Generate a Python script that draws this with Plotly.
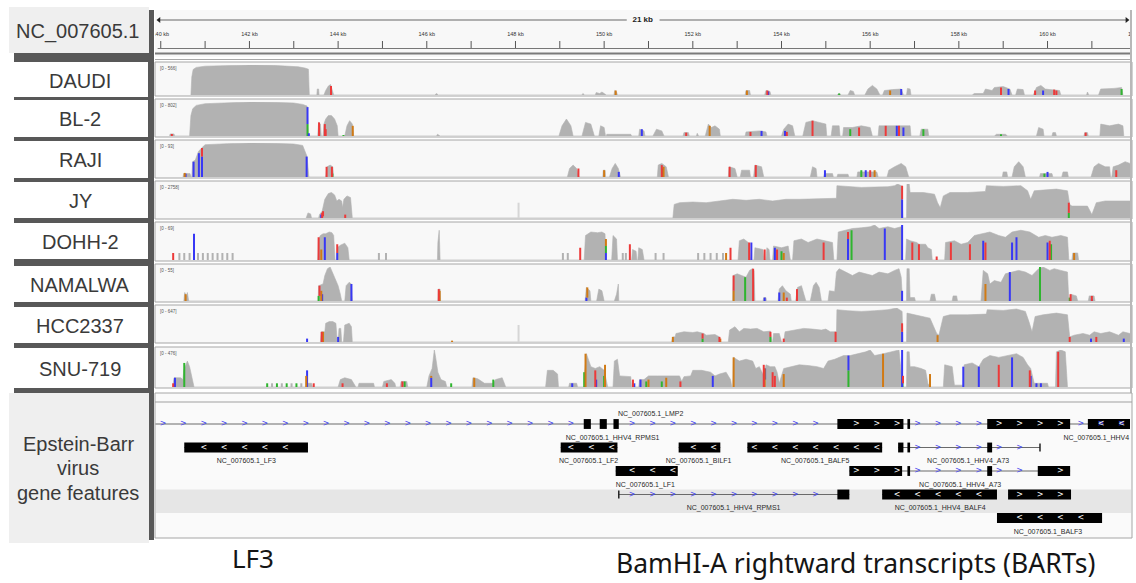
import plotly.graph_objects as go

W, H = 1136, 583


def px(x):
    return x / W


def py(y):
    return 1 - y / H


# ---------------------------------------------------------------- data
KB_RANGE = [139.87, 161.86]
RULER_TICKS_KB = list(range(140, 162))
RULER_LABEL_KB = list(range(140, 164, 2))
SPAN_LABEL = "21 kb"
SPAN_LABEL_KB = 150.87

TRACK_NAMES = ["DAUDI", "BL-2", "RAJI", "JY", "DOHH-2", "NAMALWA", "HCC2337", "SNU-719"]
TRACK_MAX = [566, 802, 93, 2758, 69, 55, 647, 476]

# coverage profiles: (kb, fraction of track data range)
DAUDI_COV = [
    [(140.68, 0), (140.70, 0.6), (140.73, 0.85), (140.8, 0.92), (141.0, 0.96), (141.5, 0.98), (142.0, 1.0),
     (142.5, 0.99), (142.9, 0.97), (143.1, 0.94), (143.25, 0.9), (143.33, 0.86), (143.35, 0)],
    [(143.52, 0), (143.53, 0.2), (143.56, 0.2), (143.57, 0)],
    [(143.68, 0), (143.72, 0.15), (143.78, 0.3), (143.83, 0.35), (143.88, 0.1), (143.9, 0)],
    [(146.18, 0), (146.22, 0.05), (146.26, 0)],
    [(149.5, 0), (149.52, 0.05), (149.56, 0)],
    [(149.8, 0), (149.82, 0.08), (149.9, 0.05), (149.95, 0.1), (150.0, 0.05), (150.05, 0)],
    [(150.22, 0), (150.24, 0.15), (150.28, 0.1), (150.3, 0)],
    [(153.18, 0), (153.2, 0.15), (153.28, 0.15), (153.3, 0)],
    [(153.62, 0), (153.65, 0.15), (153.74, 0.12), (153.76, 0)],
    [(155.25, 0), (155.3, 0.05), (155.35, 0)],
    [(155.5, 0), (155.55, 0.15), (155.62, 0.12), (155.65, 0)],
    [(155.88, 0), (155.95, 0.2), (156.05, 0.32), (156.15, 0.2), (156.22, 0)],
    [(156.28, 0), (156.32, 0.15), (156.5, 0.18), (156.7, 0.2), (156.75, 0)],
    [(156.82, 0), (156.84, 0.22), (156.9, 0.2), (156.92, 0)],
    [(158.3, 0), (158.35, 0.05), (158.55, 0.05), (158.6, 0.2), (158.75, 0.15), (158.8, 0.25), (159.0, 0.28),
     (159.15, 0.2), (159.2, 0)],
    [(159.28, 0), (159.32, 0.2), (159.45, 0.18), (159.48, 0)],
    [(159.68, 0), (159.75, 0.25), (159.85, 0.32), (159.95, 0.2), (160.05, 0.18), (160.27, 0.15), (160.3, 0)],
    [(160.88, 0), (160.9, 0.1), (160.93, 0)],
    [(161.15, 0), (161.2, 0.2), (161.5, 0.22), (161.67, 0.25), (161.7, 0)],
]
BL2_COV = [
    [(140.2, 0), (140.21, 0.06), (140.3, 0.06), (140.31, 0)],
    [(140.65, 0), (140.68, 0.6), (140.72, 0.8), (140.8, 0.9), (141.0, 0.95), (141.5, 0.98), (142.0, 1.0),
     (142.5, 0.99), (143.0, 0.97), (143.2, 0.93), (143.3, 0.88), (143.33, 0)],
    [(143.54, 0), (143.56, 0.4), (143.6, 0.35), (143.62, 0)],
    [(143.66, 0), (143.68, 0.35), (143.72, 0.5), (143.78, 0.6), (143.85, 0.6), (143.92, 0.5), (143.98, 0.3), (144.0, 0)],
    [(144.15, 0), (144.2, 0.3), (144.26, 0.45), (144.32, 0.35), (144.35, 0)],
    [(146.22, 0), (146.24, 0.05), (146.3, 0)],
    [(148.98, 0), (149.05, 0.3), (149.15, 0.5), (149.25, 0.3), (149.3, 0)],
    [(149.5, 0), (149.58, 0.4), (149.7, 0.35), (149.78, 0)],
    [(149.88, 0), (149.92, 0.3), (150.0, 0.25), (150.03, 0)],
    [(150.05, 0), (150.06, 0.05), (150.6, 0.05), (150.62, 0)],
    [(150.78, 0), (150.8, 0.2), (150.9, 0.15), (150.92, 0)],
    [(151.1, 0), (151.18, 0.2), (151.3, 0.15), (151.35, 0)],
    [(151.78, 0), (151.8, 0.1), (151.9, 0.1), (151.92, 0)],
    [(152.08, 0), (152.1, 0.08), (152.13, 0)],
    [(152.28, 0), (152.35, 0.35), (152.42, 0.25), (152.5, 0.3), (152.6, 0.2), (152.62, 0)],
    [(153.18, 0), (153.2, 0.12), (153.5, 0.15), (153.65, 0.12), (153.67, 0)],
    [(154.0, 0), (154.05, 0.2), (154.15, 0.35), (154.25, 0.3), (154.3, 0)],
    [(154.48, 0), (154.55, 0.4), (154.7, 0.45), (154.85, 0.4), (155.0, 0.35), (155.02, 0)],
    [(155.12, 0), (155.15, 0.3), (155.3, 0.3), (155.32, 0)],
    [(155.38, 0), (155.4, 0.25), (155.6, 0.25), (155.8, 0.3), (156.0, 0.25), (156.05, 0)],
    [(156.18, 0), (156.2, 0.3), (156.5, 0.3), (156.7, 0.32), (156.9, 0.3), (156.92, 0)],
    [(157.12, 0), (157.15, 0.2), (157.3, 0.2), (157.32, 0)],
    [(158.8, 0), (158.85, 0.05), (159.05, 0.05), (159.1, 0)],
    [(159.75, 0), (159.8, 0.25), (159.9, 0.2), (159.92, 0)],
    [(160.1, 0), (160.12, 0.1), (160.18, 0.1), (160.2, 0)],
    [(160.82, 0), (160.84, 0.1), (160.9, 0.1), (160.92, 0)],
    [(161.18, 0), (161.2, 0.35), (161.4, 0.3), (161.6, 0.35), (161.7, 0.3), (161.72, 0)],
]
RAJI_COV = [
    [(140.5, 0), (140.52, 0.1), (140.66, 0.1), (140.68, 0)],
    [(140.7, 0), (140.72, 0.45), (140.78, 0.5), (140.85, 0.75), (140.92, 0.85), (141.0, 0.95), (141.5, 0.98),
     (142.0, 1.0), (142.5, 0.99), (143.0, 0.97), (143.2, 0.93), (143.3, 0.6), (143.32, 0.3), (143.34, 0)],
    [(143.72, 0), (143.75, 0.3), (143.82, 0.35), (143.88, 0.3), (143.9, 0)],
    [(149.17, 0), (149.22, 0.25), (149.3, 0.35), (149.38, 0.25), (149.43, 0)],
    [(149.97, 0), (149.98, 0.2), (150.02, 0.2), (150.03, 0)],
    [(150.12, 0), (150.18, 0.25), (150.25, 0.4), (150.32, 0.25), (150.37, 0)],
    [(151.2, 0), (151.22, 0.35), (151.3, 0.4), (151.4, 0.3), (151.45, 0)],
    [(152.8, 0), (152.82, 0.3), (152.95, 0.25), (153.0, 0)],
    [(153.07, 0), (153.1, 0.2), (153.28, 0.2), (153.3, 0)],
    [(153.37, 0), (153.4, 0.35), (153.55, 0.3), (153.6, 0)],
    [(154.65, 0), (154.7, 0.3), (154.78, 0.25), (154.8, 0)],
    [(154.95, 0), (154.97, 0.1), (155.15, 0.1), (155.17, 0)],
    [(155.25, 0), (155.27, 0.08), (155.5, 0.08), (155.52, 0)],
    [(155.7, 0), (155.72, 0.15), (156.15, 0.15), (156.18, 0)],
    [(156.38, 0), (156.42, 0.2), (156.55, 0.3), (156.7, 0.4), (156.8, 0.3), (156.87, 0)],
    [(158.98, 0), (159.0, 0.15), (159.08, 0.15), (159.1, 0)],
    [(159.2, 0), (159.25, 0.3), (159.35, 0.45), (159.45, 0.3), (159.5, 0)],
    [(159.82, 0), (159.84, 0.1), (160.1, 0.1), (160.12, 0)],
    [(160.32, 0), (160.35, 0.15), (160.45, 0.15), (160.47, 0)],
    [(160.98, 0), (161.05, 0.3), (161.15, 0.4), (161.3, 0.3), (161.4, 0.3), (161.42, 0)],
    [(161.45, 0), (161.48, 0.3), (161.6, 0.35), (161.75, 0.45), (161.86, 0.4)],
]
JY_COV = [
    [(143.28, 0), (143.32, 0.15), (143.38, 0.12), (143.4, 0)],
    [(143.56, 0), (143.58, 0.1), (143.64, 0.2), (143.7, 0.55), (143.78, 0.72), (143.85, 0.75), (143.92, 0.68),
     (143.97, 0.5), (144.02, 0.55), (144.08, 0.5), (144.1, 0.3), (144.13, 0.55), (144.2, 0.65), (144.28, 0.6),
     (144.32, 0)],
    [(151.55, 0), (151.58, 0.4), (151.7, 0.45), (152.0, 0.47), (152.3, 0.45), (152.6, 0.5), (152.9, 0.55),
     (153.2, 0.52), (153.5, 0.55), (153.8, 0.5), (154.1, 0.55), (154.4, 0.55), (154.8, 0.57), (155.1, 0.58),
     (155.24, 0.58), (155.25, 0.95), (155.5, 0.92), (155.8, 0.9), (156.1, 0.91), (156.4, 0.92), (156.55, 0.95),
     (156.62, 1.0), (156.7, 0.95), (156.74, 0)],
    [(156.82, 0), (156.83, 1.0), (156.88, 1.0), (156.9, 0.75), (157.2, 0.75), (157.45, 0.7), (157.52, 0.45),
     (157.58, 0.3), (157.65, 0.65), (157.8, 0.75), (158.2, 0.75), (158.6, 0.78), (158.62, 0.95), (159.0, 0.93),
     (159.4, 0.95), (159.55, 0.8), (159.62, 0.55), (159.7, 0.8), (159.9, 0.82), (160.2, 0.85), (160.45, 0.8),
     (160.5, 0.4), (160.55, 0.35), (160.9, 0.35), (161.0, 0.1), (161.1, 0.45), (161.3, 0.5), (161.86, 0.5)],
]
DOHH2_COV = [
    [(143.54, 0), (143.56, 0.6), (143.6, 0.7), (143.66, 0.75), (143.72, 0.75), (143.8, 0.8), (143.86, 0.78),
     (143.9, 0.7), (143.93, 0)],
    [(143.97, 0), (143.98, 0.35), (144.05, 0.42), (144.15, 0.48), (144.22, 0.35), (144.25, 0)],
    [(146.24, 0), (146.25, 0.5), (146.28, 0.85), (146.3, 0)],
    [(149.55, 0), (149.58, 0.7), (149.7, 0.8), (149.85, 0.78), (149.95, 0.8), (150.02, 0.75), (150.04, 0)],
    [(150.17, 0), (150.2, 0.7), (150.28, 0.6), (150.3, 0)],
    [(150.62, 0), (150.64, 0.3), (150.72, 0.25), (150.74, 0)],
    [(150.76, 0), (150.78, 0.35), (150.86, 0.3), (150.9, 0)],
    [(153.02, 0), (153.05, 0.55), (153.15, 0.6), (153.25, 0.5), (153.3, 0)],
    [(153.38, 0), (153.4, 0.35), (153.58, 0.3), (153.6, 0)],
    [(153.65, 0), (153.67, 0.35), (153.72, 0.3), (153.74, 0)],
    [(153.8, 0), (153.82, 0.4), (154.0, 0.35), (154.15, 0.4), (154.2, 0)],
    [(154.25, 0), (154.28, 0.55), (154.45, 0.6), (154.6, 0.5), (154.8, 0.6), (155.0, 0.55), (155.15, 0.5), (155.18, 0)],
    [(155.25, 0), (155.28, 0.8), (155.45, 0.85), (155.6, 0.9), (155.8, 0.92), (156.0, 0.95), (156.1, 1.0),
     (156.2, 0.9), (156.4, 0.95), (156.55, 0.9), (156.7, 0.95), (156.73, 0)],
    [(156.8, 0), (156.82, 0.6), (156.9, 0.55), (157.05, 0.5), (157.1, 0.45), (157.25, 0.45), (157.3, 0.35),
     (157.38, 0.3), (157.4, 0)],
    [(157.68, 0), (157.7, 0.5), (157.9, 0.55), (158.05, 0.45), (158.2, 0.5), (158.35, 0.7), (158.5, 0.75),
     (158.7, 0.8), (158.9, 0.7), (159.05, 0.65), (159.2, 0.8), (159.4, 0.85), (159.6, 0.8), (159.8, 0.65),
     (159.95, 0.7), (160.1, 0.65), (160.3, 0.7), (160.45, 0.65), (160.48, 0)],
    [(160.55, 0), (160.57, 0.2), (160.68, 0.2), (160.7, 0)],
]
NAMALWA_COV = [
    [(140.52, 0), (140.54, 0.25), (140.58, 0.15), (140.6, 0.25), (140.63, 0)],
    [(143.55, 0), (143.56, 0.45), (143.66, 0.5), (143.7, 0.75), (143.76, 0.95), (143.82, 1.0), (143.88, 0.8),
     (143.95, 0.6), (144.0, 0.45), (144.05, 0.2), (144.08, 0)],
    [(144.15, 0), (144.18, 0.45), (144.25, 0.55), (144.3, 0.5), (144.32, 0)],
    [(146.25, 0), (146.26, 0.35), (146.3, 0.35), (146.31, 0)],
    [(149.57, 0), (149.6, 0.4), (149.68, 0.3), (149.7, 0)],
    [(149.83, 0), (149.88, 0.35), (149.95, 0.3), (150.0, 0)],
    [(150.23, 0), (150.28, 0.2), (150.32, 0.5), (150.33, 0)],
    [(152.9, 0), (152.91, 0.75), (153.0, 0.8), (153.1, 0.75), (153.2, 0.7), (153.28, 0.9), (153.34, 0.95),
     (153.38, 0.9), (153.4, 0)],
    [(153.58, 0), (153.6, 0.1), (153.65, 0.1), (153.66, 0)],
    [(153.92, 0), (153.95, 0.35), (154.02, 0.45), (154.1, 0.3), (154.2, 0.2), (154.22, 0)],
    [(154.32, 0), (154.36, 0.4), (154.45, 0.45), (154.5, 0.25), (154.55, 0)],
    [(154.65, 0), (154.72, 0.45), (154.78, 0.55), (154.85, 0.4), (154.9, 0)],
    [(155.05, 0), (155.08, 0.3), (155.2, 0.28), (155.24, 0.85), (155.3, 0.95), (155.45, 0.85), (155.6, 0.75),
     (155.75, 0.85), (155.9, 0.8), (156.05, 0.75), (156.2, 0.85), (156.4, 0.8), (156.55, 0.9), (156.65, 0.95),
     (156.7, 0.7), (156.73, 0)],
    [(156.82, 0), (156.83, 0.95), (156.88, 0.95), (156.9, 0.1), (157.0, 0.1), (157.02, 0)],
    [(157.35, 0), (157.38, 0.2), (157.45, 0.2), (157.48, 0)],
    [(157.85, 0), (157.87, 0.15), (157.95, 0.15), (157.97, 0)],
    [(158.5, 0), (158.55, 0.9), (158.65, 0.8), (158.7, 0.5), (158.8, 0.6), (158.95, 0.55), (159.05, 0.8),
     (159.2, 0.85), (159.35, 0.9), (159.5, 0.85), (159.65, 0.75), (159.8, 0.95), (159.9, 1.0), (160.05, 0.9),
     (160.15, 0.95), (160.3, 0.9), (160.45, 0.85), (160.48, 0)],
    [(160.5, 0), (160.52, 0.2), (160.65, 0.15), (160.68, 0)],
    [(160.92, 0), (160.94, 0.15), (161.05, 0.15), (161.07, 0)],
]
HCC2337_COV = [
    [(143.6, 0), (143.62, 0.3), (143.7, 0.3), (143.72, 0.55), (143.8, 0.6), (143.88, 0.6), (143.95, 0.55), (143.98, 0)],
    [(144.0, 0), (144.02, 0.4), (144.06, 0.4), (144.08, 0)],
    [(144.12, 0), (144.15, 0.5), (144.25, 0.55), (144.3, 0.45), (144.32, 0)],
    [(151.52, 0), (151.55, 0.15), (151.6, 0.15), (151.62, 0.25), (151.8, 0.3), (152.0, 0.28), (152.1, 0.3),
     (152.25, 0.25), (152.3, 0.2), (152.5, 0.22), (152.6, 0.15), (152.62, 0)],
    [(152.8, 0), (152.83, 0.35), (152.95, 0.45), (153.05, 0.3), (153.15, 0.4), (153.3, 0.38), (153.45, 0.4),
     (153.6, 0.3), (153.75, 0.32), (153.78, 0)],
    [(153.8, 0), (153.82, 0.25), (153.95, 0.25), (154.0, 0)],
    [(154.05, 0), (154.08, 0.3), (154.3, 0.35), (154.5, 0.4), (154.7, 0.38), (154.9, 0.35), (155.0, 0.38),
     (155.1, 0.3), (155.24, 0.3), (155.25, 0.95), (155.5, 0.92), (155.8, 0.9), (156.1, 0.92), (156.4, 0.95),
     (156.6, 1.0), (156.72, 0.9), (156.74, 0)],
    [(156.82, 0), (156.83, 0.85), (157.0, 0.8), (157.2, 0.75), (157.35, 0.7), (157.5, 0.25), (157.55, 0.2),
     (157.65, 0.75), (157.8, 0.8), (158.2, 0.8), (158.62, 0.82), (158.64, 0.95), (159.0, 0.93), (159.3, 0.97),
     (159.5, 0.9), (159.58, 0.6), (159.65, 0.3), (159.72, 0.75), (159.9, 0.8), (160.2, 0.85), (160.45, 0.8),
     (160.5, 0.15), (160.6, 0.2), (160.8, 0.25), (160.95, 0.2), (161.05, 0.3), (161.2, 0.25), (161.4, 0.3),
     (161.6, 0.2), (161.7, 0.3), (161.86, 0.25)],
]
SNU719_COV = [
    [(140.27, 0), (140.3, 0.25), (140.45, 0.25), (140.5, 0.2), (140.52, 0.45), (140.6, 0.7), (140.65, 0.55),
     (140.7, 0.25), (140.75, 0)],
    [(143.3, 0), (143.32, 0.1), (143.4, 0.1), (143.42, 0)],
    [(144.0, 0), (144.05, 0.2), (144.15, 0.25), (144.3, 0.2), (144.4, 0)],
    [(144.45, 0), (144.47, 0.1), (144.8, 0.1), (144.82, 0)],
    [(145.0, 0), (145.03, 0.15), (145.2, 0.2), (145.28, 0.1), (145.3, 0)],
    [(145.4, 0), (145.42, 0.15), (145.55, 0.15), (145.57, 0)],
    [(146.0, 0), (146.05, 0.3), (146.12, 0.5), (146.17, 1.0), (146.2, 0.8), (146.25, 0.4), (146.32, 0.2),
     (146.42, 0.15), (146.45, 0)],
    [(147.02, 0), (147.04, 0.25), (147.15, 0.22), (147.3, 0.1), (147.5, 0.1), (147.55, 0.2), (147.7, 0.25), (147.78, 0)],
    [(148.68, 0), (148.72, 0.45), (148.85, 0.45), (148.95, 0.35), (148.97, 0)],
    [(149.2, 0), (149.22, 0.1), (149.38, 0.1), (149.4, 0)],
    [(149.55, 0), (149.56, 0.4), (149.6, 0.9), (149.7, 0.55), (149.8, 0.5), (149.9, 0.55), (150.0, 0.45),
     (150.05, 0.2), (150.08, 0)],
    [(150.2, 0), (150.23, 0.7), (150.3, 0.75), (150.35, 0.3), (150.6, 0.28), (150.62, 0)],
    [(150.78, 0), (150.8, 0.2), (150.9, 0.2), (151.0, 0.3), (151.2, 0.3), (151.4, 0.3), (151.55, 0.3),
     (151.7, 0.3), (151.75, 0.15), (151.8, 0.28), (151.95, 0.3), (152.0, 0.45), (152.2, 0.45), (152.4, 0.4),
     (152.5, 0.3), (152.6, 0.35), (152.75, 0.4), (152.85, 0.2), (152.88, 0)],
    [(152.9, 0), (152.92, 0.8), (153.05, 0.7), (153.2, 0.75), (153.35, 0.7), (153.42, 0.5), (153.5, 0.55),
     (153.6, 0.3), (153.65, 0.6), (153.75, 0.55), (153.85, 0.55), (153.9, 0.4), (153.95, 0.1), (154.05, 0.5),
     (154.2, 0.55), (154.4, 0.6), (154.6, 0.58), (154.8, 0.55), (154.95, 0.5), (155.05, 0.7), (155.2, 0.75),
     (155.4, 0.85), (155.55, 0.85), (155.75, 0.9), (155.9, 0.95), (156.0, 1.0), (156.1, 0.85), (156.3, 0.9),
     (156.5, 0.95), (156.65, 1.0), (156.73, 0)],
    [(156.82, 0), (156.83, 0.95), (156.88, 0.95), (156.9, 0.55), (157.0, 0.55), (157.15, 0.5), (157.25, 0.45),
     (157.3, 0.1), (157.35, 0)],
    [(157.65, 0), (157.68, 0.6), (157.85, 0.55), (157.9, 0.05), (158.1, 0.05), (158.12, 0.6), (158.3, 0.65),
     (158.45, 0.55), (158.55, 0.75), (158.7, 0.85), (158.9, 0.8), (159.1, 0.85), (159.3, 0.9), (159.45, 0.8),
     (159.55, 0.6), (159.62, 0.5), (159.7, 0.1), (160.0, 0.1), (160.02, 0)],
    [(160.18, 0), (160.2, 0.95), (160.3, 1.0), (160.4, 0.95), (160.45, 0)],
]

# mismatch / single-position bars: (kb, from, to, base)  N = reference-only bar, L = faint bar
DAUDI_BARS = [(143.84, 0, 0.3, "T"), (150.26, 0, 0.15, "G"), (153.22, 0, 0.15, "G"), (153.68, 0, 0.15, "T"),
              (153.7, 0, 0.12, "C"), (155.3, 0, 0.05, "A"), (156.45, 0, 0.15, "G"), (156.7, 0, 0.2, "C"),
              (158.95, 0, 0.25, "T"), (159.12, 0, 0.2, "C"), (159.72, 0, 0.15, "T"), (159.9, 0, 0.15, "C"),
              (160.15, 0, 0.18, "T"), (160.2, 0, 0.15, "T"), (161.67, 0, 0.2, "A")]
BL2_BARS = [(140.25, 0, 0.06, "T"), (143.31, 0, 0.35, "A"), (143.31, 0.35, 0.85, "C"), (143.34, 0, 0.08, "C"),
            (143.57, 0, 0.4, "T"), (143.7, 0, 0.35, "T"), (143.72, 0, 0.2, "T"), (144.12, 0, 0.03, "A"),
            (144.33, 0, 0.3, "G"), (150.85, 0, 0.2, "C"), (151.85, 0, 0.1, "T"), (152.38, 0, 0.3, "G"),
            (153.3, 0, 0.12, "T"), (153.55, 0, 0.15, "C"), (154.08, 0, 0.15, "C"), (154.12, 0, 0.12, "T"),
            (154.7, 0, 0.45, "T"), (155.55, 0, 0.2, "A"), (155.75, 0, 0.25, "T"), (156.35, 0, 0.3, "T"),
            (156.6, 0, 0.3, "C"), (156.65, 0, 0.3, "T"), (156.75, 0, 0.25, "C"), (157.2, 0, 0.2, "A"),
            (158.95, 0, 0.05, "A"), (160.86, 0, 0.1, "T")]
RAJI_BARS = [(140.56, 0, 0.1, "C"), (140.54, 0, 0.12, "G"), (140.74, 0, 0.45, "C"), (140.86, 0, 0.7, "C"),
             (140.93, 0, 0.6, "C"), (140.93, 0.6, 0.85, "T"), (143.29, 0, 0.6, "C"), (143.74, 0, 0.3, "T"),
             (143.86, 0, 0.3, "T"), (143.87, 0, 0.1, "A"), (149.42, 0, 0.25, "T"), (150.0, 0, 0.2, "G"),
             (150.33, 0, 0.15, "C"), (151.3, 0, 0.35, "T"), (151.32, 0, 0.25, "A"), (151.34, 0, 0.3, "G"),
             (152.83, 0, 0.3, "T"), (153.42, 0, 0.35, "T"), (154.98, 0, 0.2, "C"), (155.8, 0, 0.2, "A"),
             (155.9, 0, 0.2, "C"), (156.0, 0, 0.2, "T"), (156.1, 0, 0.2, "G"), (159.93, 0, 0.1, "A"),
             (160.0, 0, 0.15, "C"), (161.55, 0, 0.2, "T")]
JY_BARS = [(143.62, 0, 0.1, "C"), (143.64, 0, 0.15, "T"), (143.66, 0.05, 0.2, "T"), (144.16, 0, 0.1, "T"),
           (148.07, 0, 0.45, "L"), (156.72, 0, 0.55, "C"), (156.72, 0.55, 0.95, "T"),
           (160.48, 0, 0.15, "A"), (160.48, 0.15, 0.45, "T")]
DOHH2_BARS = [(140.28, 0, 0.2, "T"), (140.42, 0, 0.2, "N"), (140.53, 0, 0.2, "N"), (140.65, 0, 0.2, "N"),
              (140.75, 0, 0.75, "C"), (140.84, 0, 0.2, "N"), (140.95, 0, 0.2, "N"), (141.06, 0, 0.2, "N"),
              (141.17, 0, 0.2, "N"), (141.28, 0, 0.2, "N"), (141.39, 0, 0.2, "N"), (141.5, 0, 0.2, "N"),
              (141.62, 0, 0.2, "N"), (143.56, 0, 0.65, "T"), (143.62, 0, 0.3, "G"), (143.7, 0, 0.65, "C"),
              (143.98, 0, 0.2, "C"), (143.98, 0.2, 0.45, "T"), (144.92, 0, 0.2, "N"), (145.08, 0, 0.2, "N"),
              (149.07, 0, 0.2, "N"), (149.18, 0, 0.2, "N"), (149.46, 0, 0.35, "T"), (150.04, 0, 0.2, "C"),
              (150.04, 0.2, 0.4, "A"), (150.04, 0.4, 0.6, "G"), (150.42, 0, 0.2, "N"), (150.49, 0, 0.2, "N"),
              (150.58, 0, 0.45, "T"), (151.16, 0, 0.2, "N"), (151.34, 0, 0.2, "N"), (152.12, 0, 0.2, "N"),
              (152.26, 0, 0.2, "N"), (152.4, 0, 0.2, "N"), (152.54, 0, 0.2, "N"), (152.68, 0, 0.2, "N"),
              (152.75, 0, 0.2, "G"), (152.85, 0, 0.35, "T"), (153.27, 0, 0.5, "T"), (153.32, 0, 0.5, "C"),
              (153.62, 0, 0.3, "T"), (153.85, 0, 0.35, "C"), (153.9, 0, 0.3, "T"), (154.0, 0, 0.25, "A"),
              (154.05, 0, 0.2, "G"), (154.95, 0, 0.5, "T"), (155.5, 0, 0.6, "C"), (155.5, 0.6, 0.8, "T"),
              (155.58, 0, 0.85, "A"), (156.33, 0, 0.9, "C"), (156.72, 0, 1.0, "C"), (156.95, 0, 0.5, "T"),
              (157.1, 0, 0.45, "T"), (157.5, 0, 0.1, "T"), (157.82, 0, 0.5, "T"), (158.25, 0, 0.45, "T"),
              (158.55, 0, 0.55, "C"), (158.6, 0, 0.5, "T"), (159.2, 0, 0.5, "C"), (159.3, 0, 0.65, "C"),
              (160.0, 0, 0.5, "C"), (160.05, 0, 0.55, "T"), (160.08, 0, 0.45, "A"), (160.6, 0, 0.2, "G")]
NAMALWA_BARS = [(140.56, 0, 0.2, "G"), (143.56, 0, 0.15, "A"), (143.58, 0.15, 0.45, "T"), (143.62, 0, 0.3, "G"),
                (143.64, 0, 0.2, "C"), (144.3, 0, 0.5, "C"), (146.27, 0, 0.35, "T"), (146.29, 0, 0.3, "G"),
                (149.6, 0, 0.1, "C"), (149.62, 0.1, 0.4, "G"), (152.92, 0, 0.3, "G"), (152.92, 0.3, 0.75, "T"),
                (153.18, 0, 0.7, "A"), (153.36, 0, 0.95, "T"), (153.62, 0, 0.1, "C"), (153.95, 0, 0.25, "C"),
                (154.05, 0, 0.25, "G"), (154.12, 0, 0.1, "T"), (154.35, 0, 0.35, "T"), (156.72, 0, 0.3, "C"),
                (158.6, 0, 0.5, "G"), (159.15, 0, 0.85, "C"), (159.83, 0, 1.0, "A"), (160.5, 0, 0.1, "A"),
                (160.52, 0, 0.2, "T"), (161.0, 0, 0.15, "T"), (161.0, 0, 0.05, "C")]
HCC2337_BARS = [(143.3, 0, 0.1, "C"), (143.63, 0, 0.3, "T"), (143.66, 0, 0.3, "G"), (144.0, 0, 0.15, "C"),
                (146.57, 0, 0.04, "G"), (148.07, 0, 0.5, "L"), (151.55, 0, 0.15, "G"), (152.22, 0, 0.1, "A"),
                (152.22, 0.1, 0.25, "T"), (152.6, 0, 0.15, "T"), (152.62, 0, 0.1, "G"), (153.75, 0, 0.15, "A"),
                (153.75, 0.15, 0.3, "T"), (154.05, 0, 0.1, "T"), (155.22, 0, 0.3, "T"), (156.72, 0, 0.3, "C"),
                (156.72, 0.3, 0.55, "T"), (157.52, 0, 0.2, "G"), (160.5, 0, 0.15, "T"), (160.98, 0, 0.1, "C"),
                (161.1, 0, 0.15, "T"), (161.72, 0, 0.1, "C")]
SNU719_BARS = [(140.28, 0, 0.1, "T"), (140.32, 0, 0.25, "C"), (140.53, 0, 0.65, "A"), (142.4, 0, 0.1, "A"),
               (142.51, 0, 0.1, "N"), (142.62, 0, 0.1, "A"), (142.73, 0, 0.1, "N"), (142.84, 0, 0.1, "A"),
               (142.95, 0, 0.1, "N"), (143.06, 0, 0.1, "A"), (143.17, 0, 0.1, "N"), (143.28, 0, 0.3, "G"),
               (143.3, 0, 0.45, "C"), (143.45, 0, 0.1, "T"), (144.1, 0, 0.1, "T"), (145.1, 0, 0.1, "T"),
               (145.45, 0, 0.15, "T"), (145.5, 0, 0.15, "A"), (146.1, 0, 0.25, "C"), (146.1, 0.25, 0.3, "G"),
               (146.55, 0, 0.1, "A"), (147.07, 0, 0.25, "G"), (147.5, 0, 0.2, "A"), (149.28, 0, 0.1, "C"),
               (149.55, 0, 0.4, "A"), (149.58, 0, 0.9, "G"), (149.8, 0, 0.45, "T"), (149.82, 0, 0.2, "C"),
               (150.0, 0, 0.3, "A"), (150.02, 0, 0.6, "G"), (150.65, 0, 0.2, "T"), (150.68, 0, 0.1, "C"),
               (150.82, 0, 0.2, "C"), (150.95, 0, 0.15, "A"), (151.0, 0, 0.2, "G"), (151.3, 0, 0.15, "A"),
               (151.4, 0, 0.25, "G"), (151.72, 0, 0.15, "T"), (152.45, 0, 0.3, "C"), (152.92, 0, 0.8, "G"),
               (153.6, 0, 0.6, "T"), (153.62, 0, 0.5, "G"), (153.63, 0.2, 0.5, "C"), (153.8, 0, 0.4, "T"),
               (153.85, 0, 0.3, "T"), (154.05, 0, 0.35, "G"), (155.51, 0, 0.45, "A"), (155.51, 0.45, 0.85, "C"),
               (156.29, 0, 0.9, "G"), (156.72, 0, 1.0, "C"), (156.73, 0, 0.3, "A"), (156.74, 0.1, 0.3, "T"),
               (157.35, 0, 0.35, "G"), (158.1, 0, 0.55, "C"), (158.45, 0, 0.55, "C"), (158.9, 0, 0.6, "T"),
               (159.2, 0, 0.8, "C"), (159.6, 0, 0.45, "T"), (159.62, 0, 0.3, "C"), (159.75, 0, 0.1, "C"),
               (159.85, 0, 0.1, "C"), (160.24, 0, 0.95, "T")]

TRACK_COV = [DAUDI_COV, BL2_COV, RAJI_COV, JY_COV, DOHH2_COV, NAMALWA_COV, HCC2337_COV, SNU719_COV]
TRACK_BARS = [DAUDI_BARS, BL2_BARS, RAJI_BARS, JY_BARS, DOHH2_BARS, NAMALWA_BARS, HCC2337_BARS, SNU719_BARS]

# gene features
GENE_NAMES = ["NC_007605.1_LMP2", "NC_007605.1_HHV4_RPMS1", "NC_007605.1_HHV4", "NC_007605.1_LF3",
              "NC_007605.1_LF2", "NC_007605.1_BILF1", "NC_007605.1_BALF5", "NC_007605.1_HHV4_A73",
              "NC_007605.1_LF1", "NC_007605.1_HHV4_A73", "NC_007605.1_HHV4_RPMS1", "NC_007605.1_HHV4_BALF4",
              "", "NC_007605.1_BALF3"]
GENE_ROWS = [0, 1, 1, 2, 2, 2, 2, 2, 3, 3, 4, 4, 4, 5]
GENE_STRANDS = ["+", "+", "-", "-", "-", "-", "-", "+", "-", "+", "+", "-", "+", "-"]
GENE_SPANS = [None, (139.88, 161.86), (160.91, 161.86), (140.53, 143.32), (149.02, 150.30), (151.68, 152.62),
              (153.23, 156.27), (156.63, 159.83), (150.26, 151.66), (155.53, 160.51), (150.33, 155.53),
              (156.27, 158.86), (159.11, 160.53), (158.86, 161.23)]
GENE_EXONS = [
    [],
    [(149.54, 149.70), (149.90, 150.06), (150.21, 150.33), (155.26, 156.75), (156.84, 156.90), (158.64, 160.51)],
    [(160.91, 161.86)],
    [(140.53, 143.32)],
    [(149.02, 150.30)],
    [(151.68, 152.62)],
    [(153.23, 156.27)],
    [(156.63, 156.75), (156.84, 156.90), (158.64, 158.75)],
    [(150.26, 151.66)],
    [(155.53, 156.72), (156.84, 156.90), (158.64, 158.75), (159.78, 160.51)],
    [(155.26, 155.53)],
    [(156.27, 158.86)],
    [(159.11, 160.53)],
    [(158.86, 161.23)],
]
GENE_LABEL_KB = [151.05, 150.19, 161.1, 141.93, 149.65, 152.13, 154.76, 158.21, 150.93, 158.03, 152.92,
                 157.58, 160.0, 160.01]
GENE_END_TICKS = [[], [], [], [], [], [], [], [159.83], [], [], [150.33], [], [], []]

BASE_COLORS = {"A": "#2fb52f", "C": "#3838f5", "G": "#d17a14", "T": "#ec3a3a", "N": "#b2b2b2", "L": "#d6d6d6"}
COVERAGE_GRAY = "#b2b2b2"

# ---------------------------------------------------------------- geometry (pixels)
PANEL_X0, PANEL_X1 = 155, 1130
TRACK_BOX = [(62, 96), (99, 137), (140, 178), (181, 219), (222, 261), (264, 302), (305, 343), (347, 388)]
LABEL_BOX = [(62, 97), (100, 137), (141, 178), (182, 218), (223, 259), (266, 302), (307, 343), (348, 388)]
FEAT_TOP, FEAT_BOT = 393, 538
ROW0_Y, ROW_STEP = 400.5, 23.5

fig = go.Figure()
layout = dict(
    width=W, height=H, margin=dict(l=0, r=0, t=0, b=0),
    paper_bgcolor="white", plot_bgcolor="rgba(0,0,0,0)", showlegend=False,
    xaxis=dict(domain=[px(PANEL_X0), px(PANEL_X1)], range=KB_RANGE, visible=False, fixedrange=True),
)

shapes = []
annotations = []


def rect(x0, y0, x1, y1, fill, line=None, lw=0):
    shapes.append(dict(type="rect", xref="paper", yref="paper", x0=px(x0), x1=px(x1), y0=py(y1), y1=py(y0),
                       fillcolor=fill, line=dict(color=line or fill, width=lw), layer="below"))


def hline(y, x0, x1, color, width=1):
    shapes.append(dict(type="line", xref="paper", yref="paper", x0=px(x0), x1=px(x1), y0=py(y), y1=py(y),
                       line=dict(color=color, width=width), layer="below"))


def label(x, y, text, size, family="Liberation Sans", color="#3a3a3a", xanchor="center", yanchor="middle"):
    annotations.append(dict(x=px(x), y=py(y), xref="paper", yref="paper", text=text, showarrow=False,
                            xanchor=xanchor, yanchor=yanchor, font=dict(family=family, size=size, color=color)))


# ---- left label column
rect(9, 7, 149, 53, "#efefef")
rect(14, 53, 149, 393, "#585858")
for (t, b) in LABEL_BOX:
    rect(14, t, 148, b, "white")
rect(9, FEAT_TOP, 149, 543, "#efefef")
rect(149, 10, 154, 540, "#585858")

label(77, 31, "NC_007605.1", 20)
for name, (t, b) in zip(TRACK_NAMES, LABEL_BOX):
    label(80, (t + b) / 2 + 1, name, 20)
for txt, yy in [("Epstein-Barr", 444), ("virus", 468), ("gene features", 493)]:
    label(78, yy, txt, 20)

# ---- ruler panel
rect(PANEL_X0, 10, PANEL_X1 + 2, 57, "#f8f8f8")
hline(53.5, PANEL_X0, PANEL_X1 + 2, "#7a7a7a", 2)
hline(59.5, PANEL_X0, PANEL_X1 + 2, "#a8a8a8", 1)

layout["yaxis10"] = dict(domain=[py(57), py(10)], range=[57, 10], visible=False, fixedrange=True, anchor="x")
tick_x, tick_y = [], []
for kb in RULER_TICKS_KB:
    tick_x += [kb, kb, None]
    tick_y += [41, 48.5, None]
fig.add_trace(go.Scatter(x=tick_x, y=tick_y, mode="lines", line=dict(color="#555", width=1),
                         xaxis="x", yaxis="y10", hoverinfo="skip"))
fig.add_trace(go.Scatter(x=[KB_RANGE[0] + 0.06, KB_RANGE[1]], y=[48.5, 48.5], mode="lines",
                         line=dict(color="#777", width=1), xaxis="x", yaxis="y10", hoverinfo="skip"))
fig.add_trace(go.Scatter(x=RULER_LABEL_KB, y=[35] * len(RULER_LABEL_KB), mode="text",
                         text=[f"{k} kb" for k in RULER_LABEL_KB], cliponaxis=True,
                         textfont=dict(family="Liberation Sans", size=5.5, color="#333"),
                         xaxis="x", yaxis="y10", hoverinfo="skip"))
fig.add_trace(go.Scatter(x=[KB_RANGE[0] + 0.08, SPAN_LABEL_KB - 0.36, None, SPAN_LABEL_KB + 0.38, KB_RANGE[1] - 0.06],
                         y=[20, 20, None, 20, 20], mode="lines", line=dict(color="#666", width=1),
                         xaxis="x", yaxis="y10", hoverinfo="skip"))
fig.add_trace(go.Scatter(x=[KB_RANGE[0] + 0.09, KB_RANGE[1] - 0.07], y=[20, 20], mode="markers",
                         marker=dict(symbol=["triangle-left", "triangle-right"], size=5, color="#222"),
                         xaxis="x", yaxis="y10", hoverinfo="skip"))
fig.add_trace(go.Scatter(x=[SPAN_LABEL_KB], y=[20], mode="text", text=[f"<b>{SPAN_LABEL}</b>"],
                         textfont=dict(family="Liberation Sans", size=8, color="#222"),
                         xaxis="x", yaxis="y10", hoverinfo="skip"))

# ---- coverage tracks
for i, (name, (t, b)) in enumerate(zip(TRACK_NAMES, TRACK_BOX)):
    ax = "y" if i == 0 else f"y{i + 1}"
    key = "yaxis" if i == 0 else f"yaxis{i + 1}"
    layout[key] = dict(domain=[py(b - 1), py(t + 3)], range=[0, 1], visible=False, fixedrange=True, anchor="x")
    rect(PANEL_X0, t, PANEL_X1 + 2, b, "#f8f8f8", "#a6a6a6", 1)
    label(PANEL_X0 + 3, t + 2, f"[0 - {TRACK_MAX[i]}]", 4.5, color="#555", xanchor="left", yanchor="top")
    xs, ys = [], []
    for seg in sorted(TRACK_COV[i], key=lambda s: s[0][0]):
        for kb, h in seg:
            xs.append(kb)
            ys.append(h)
    fig.add_trace(go.Scatter(x=xs, y=ys, mode="lines", fill="tozeroy", fillcolor=COVERAGE_GRAY,
                             line=dict(color=COVERAGE_GRAY, width=0.6), xaxis="x", yaxis=ax, hoverinfo="skip"))
    for base, color in BASE_COLORS.items():
        bx, by = [], []
        for kb, y0, y1, bb in TRACK_BARS[i]:
            if bb == base:
                bx += [kb, kb, None]
                by += [y0, y1, None]
        if bx:
            fig.add_trace(go.Scatter(x=bx, y=by, mode="lines", line=dict(color=color, width=2),
                                     xaxis="x", yaxis=ax, hoverinfo="skip"))

# right border of the data column
shapes.append(dict(type="line", xref="paper", yref="paper", x0=px(PANEL_X1 + 1), x1=px(PANEL_X1 + 1),
                   y0=py(FEAT_BOT), y1=py(10), line=dict(color="#b8b8b8", width=2), layer="below"))

# ---- gene feature track
rect(PANEL_X0, FEAT_TOP, PANEL_X1 + 2, FEAT_BOT, "#fafafa", "#a6a6a6", 1)
hline(402, PANEL_X0, PANEL_X1 + 2, "#a0a0a0", 1)
rect(PANEL_X0 + 1, 489.5, PANEL_X1 + 1, 513, "#e6e6e6")

row_top = (FEAT_TOP + 4 - ROW0_Y) / ROW_STEP
row_bot = (FEAT_BOT - ROW0_Y) / ROW_STEP
layout["yaxis9"] = dict(domain=[py(FEAT_BOT), py(FEAT_TOP + 4)], range=[row_bot, row_top], visible=False,
                        fixedrange=True, anchor="x")

CHEVRON_STEP = 0.46
CHEVRON_START = 140.05
grid = []
k = CHEVRON_START
while k < KB_RANGE[1]:
    grid.append(round(k, 3))
    k += CHEVRON_STEP

blue_x, blue_y, white_x, white_y, white_t = [], [], [], [], []
lab_x, lab_y, lab_t = [], [], []
for name, row, strand, span, exons, lab_kb, ticks in zip(GENE_NAMES, GENE_ROWS, GENE_STRANDS, GENE_SPANS,
                                                         GENE_EXONS, GENE_LABEL_KB, GENE_END_TICKS):
    if name:
        lab_x.append(lab_kb)
        lab_y.append(row + 0.6)
        lab_t.append(name)
    if span is None:
        continue
    shapes.append(dict(type="line", xref="x", yref="y9", x0=span[0], x1=span[1], y0=row, y1=row,
                       line=dict(color="#6a6a6a", width=1), layer="below"))
    for tk in ticks:
        shapes.append(dict(type="line", xref="x", yref="y9", x0=tk, x1=tk, y0=row - 0.17, y1=row + 0.17,
                           line=dict(color="#222", width=1.5), layer="below"))
    for (s, e) in exons:
        shapes.append(dict(type="rect", xref="x", yref="y9", x0=s, x1=e, y0=row - 0.21, y1=row + 0.21,
                           fillcolor="black", line=dict(width=0), layer="below"))
    for g in grid:
        if not (span[0] + 0.03 < g < span[1] - 0.03):
            continue
        inside = [(s, e) for (s, e) in exons if s - 0.06 <= g <= e + 0.06]
        if inside:
            s, e = inside[0]
            if s + 0.12 < g < e - 0.06:
                white_x.append(g)
                white_y.append(row)
                white_t.append(">" if strand == "+" else "<")
        else:
            blue_x.append(g)
            blue_y.append(row)

fig.add_trace(go.Scatter(x=blue_x, y=blue_y, mode="text", text=[">"] * len(blue_x),
                         textfont=dict(family="DejaVu Sans", size=8, color="#4646ee"),
                         xaxis="x", yaxis="y9", hoverinfo="skip"))
fig.add_trace(go.Scatter(x=white_x, y=white_y, mode="text", text=white_t,
                         textfont=dict(family="DejaVu Sans", size=8, color="white"),
                         xaxis="x", yaxis="y9", hoverinfo="skip"))
fig.add_trace(go.Scatter(x=lab_x, y=lab_y, mode="text", text=lab_t,
                         textfont=dict(family="Liberation Sans", size=7, color="#2a2a2a"),
                         xaxis="x", yaxis="y9", hoverinfo="skip"))

# ---- captions under the browser view
label(253, 558, "LF3", 26, family="Noto Sans", color="#151515")
label(855, 563, "BamHI-A rightward transcripts (BARTs)", 26.5, family="Noto Sans", color="#151515")

layout["shapes"] = shapes
layout["annotations"] = annotations
fig.update_layout(**layout)
fig.write_html("out.html")
